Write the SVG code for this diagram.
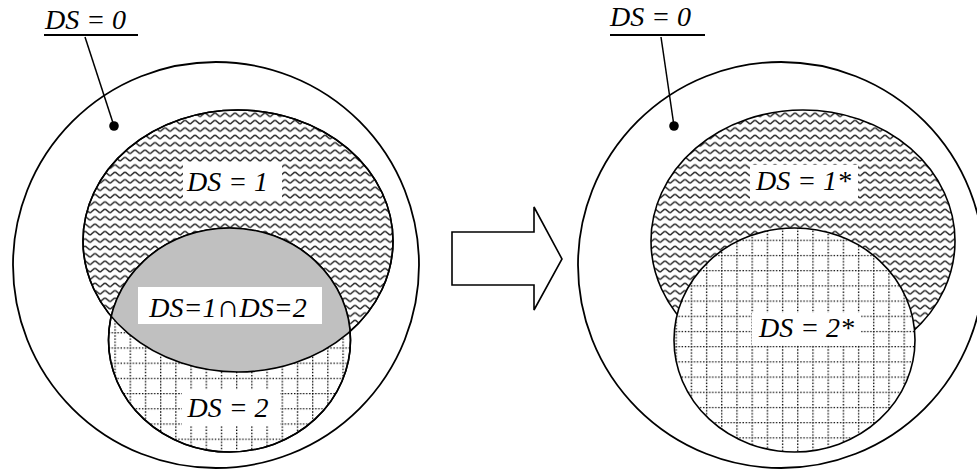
<svg xmlns="http://www.w3.org/2000/svg" width="977" height="469" viewBox="0 0 977 469">
<style>
.ol{fill:none;stroke:#000;stroke-width:1.8}
.el{stroke:#000;stroke-width:1.6}
text{font-family:"Liberation Serif","DejaVu Serif","Times New Roman",serif;font-style:italic;font-size:28px;fill:#000}
.bg{fill:#fff}
.ld{stroke:#000;stroke-width:1.5;fill:none}
.ul{stroke:#000;stroke-width:2}
.gl{stroke:#000;stroke-width:1.4;stroke-dasharray:1.4 1.7}
</style>
<defs>
<pattern id="wave" patternUnits="userSpaceOnUse" x="0" y="0" width="10" height="7.4">
<rect width="10" height="7.4" fill="#fff"/>
<path d="M-1,5.1 Q0,5.6 1,5 L4,2.4 Q5,1.8 6,2.4 L9,5 Q10,5.6 11,5" fill="none" stroke="#333" stroke-width="1.6"/>
</pattern>
<pattern id="grid" patternUnits="userSpaceOnUse" x="8" y="13" width="15.2" height="15.2">
<rect width="15.2" height="15.2" fill="#fff"/>
<line class="gl" x1="0" y1="0.6" x2="15.2" y2="0.6"/>
<line class="gl" x1="0.6" y1="0" x2="0.6" y2="15.2"/>
</pattern>
<pattern id="grid2" patternUnits="userSpaceOnUse" x="6.7" y="11.7" width="15.2" height="15.2">
<rect width="15.2" height="15.2" fill="#fff"/>
<line class="gl" x1="0" y1="0.6" x2="15.2" y2="0.6"/>
<line class="gl" x1="0.6" y1="0" x2="0.6" y2="15.2"/>
</pattern>
<clipPath id="clipE1"><ellipse cx="238" cy="241" rx="155" ry="131"/></clipPath>
</defs>

<g id="left-ds0">
<circle class="ol" cx="216" cy="265" r="203"/>
<text x="45" y="29">DS = 0</text>
<line class="ul" x1="44" y1="35" x2="138" y2="35"/>
</g>
<g id="left-ds1">
<ellipse class="el" cx="238" cy="241" rx="155" ry="131" fill="url(#wave)"/>
</g>
<g id="left-ds2">
<ellipse class="el" cx="229.5" cy="340" rx="121" ry="112" fill="url(#grid)"/>
</g>
<g id="left-intersection">
<ellipse cx="229.5" cy="340" rx="121" ry="112" fill="#c0c0c0" clip-path="url(#clipE1)"/>
<ellipse class="el" cx="238" cy="241" rx="155" ry="131" fill="none"/>
<ellipse class="el" cx="229.5" cy="340" rx="121" ry="112" fill="none"/>
</g>
<g id="left-labels">
<rect class="bg" x="183" y="163" width="99" height="37"/>
<text x="227.5" y="191" text-anchor="middle">DS = 1</text>
<rect class="bg" x="138" y="287" width="184" height="37"/>
<text x="228" y="317" text-anchor="middle">DS=1<tspan style="font-style:normal;font-size:32px">∩</tspan>DS=2</text>
<rect class="bg" x="182" y="390" width="98" height="36"/>
<text x="228" y="417" text-anchor="middle">DS = 2</text>
</g>

<g id="arrow">
<polygon points="452,232 534,232 534,207 562,259 534,310 534,285 452,285" fill="#fff" stroke="#000" stroke-width="1.6" stroke-linejoin="miter"/>
</g>

<g id="right-ds0">
<circle class="ol" cx="781" cy="265" r="203"/>
<text x="610" y="26">DS = 0</text>
<line class="ul" x1="610" y1="35" x2="705" y2="35"/>
</g>
<g id="right-ds1">
<ellipse class="el" cx="803" cy="241" rx="152" ry="131" fill="url(#wave)"/>
<rect class="bg" x="750" y="165" width="108" height="34"/>
<text x="803.5" y="190" text-anchor="middle">DS = 1*</text>
</g>
<g id="right-ds2">
<ellipse class="el" cx="794.5" cy="340" rx="120.5" ry="112" fill="url(#grid2)"/>
<rect class="bg" x="752" y="313" width="109" height="32"/>
<text x="806.5" y="337" text-anchor="middle">DS = 2*</text>
</g>

<g id="connectors">
<line class="ld" x1="85" y1="37" x2="114" y2="126"/>
<circle cx="114" cy="126" r="4.8" fill="#000"/>
<line class="ld" x1="661" y1="37" x2="674" y2="126"/>
<circle cx="674" cy="126" r="4.8" fill="#000"/>
</g>
</svg>
